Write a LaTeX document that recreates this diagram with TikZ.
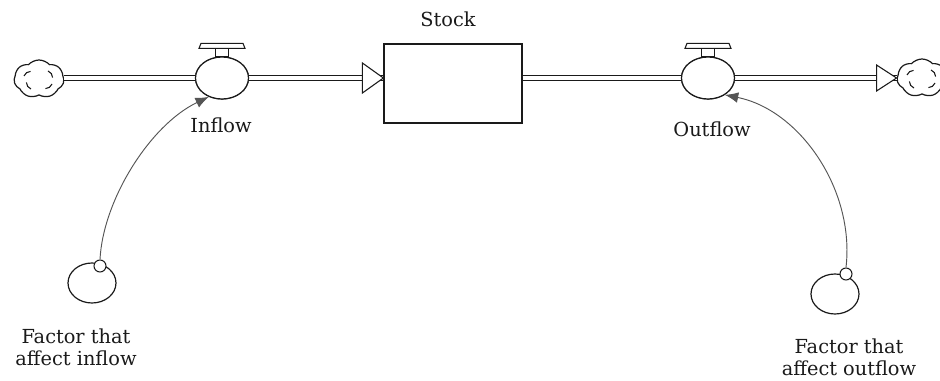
\documentclass[tikz,border=0pt]{standalone}
\usepackage{fontspec}
\setmainfont{DejaVu Serif}
\usetikzlibrary{shapes.geometric,shapes.symbols,arrows.meta}
\definecolor{ink}{HTML}{1A1A1A}
\definecolor{linkgray}{HTML}{555555}
\newdimen\px \px=0.75pt
\tikzset{
  lbl/.style={font=\fontsize{14.5}{16.5}\selectfont, text=ink, inner sep=0pt, align=center},
  valvebody/.style={ellipse, draw=ink, line width=0.9pt, fill=white, minimum width=53\px, minimum height=42\px, inner sep=0pt},
  aux/.style={ellipse, draw=ink, line width=0.9pt, fill=white, minimum width=48\px, minimum height=40\px, inner sep=0pt},
  srcdot/.style={circle, draw=ink, line width=0.8pt, fill=white, minimum size=12\px, inner sep=0pt},
  stockbox/.style={rectangle, draw=ink, line width=0.9pt, fill=white, minimum width=138\px, minimum height=79\px, inner sep=0pt},
  cloudnode/.style={cloud, cloud puffs=7, cloud puff arc=95, aspect=1.35, draw=ink, line width=0.9pt, fill=white, minimum width=50\px, minimum height=38\px, inner sep=0pt},
  pipe/.style={draw=ink, line width=0.7pt, double=white, double distance=3.5\px},
  link/.style={draw=linkgray, line width=0.7pt, -{Latex[length=10pt, width=8pt]}},
  head/.style={draw=ink, line width=0.8pt, fill=white}
}
\begin{document}
\begin{tikzpicture}[x=0.75pt, y=-0.75pt]
  \useasboundingbox (0,0) rectangle (940,381);
  \fill[white] (0,0) rectangle (940,381);

  % stock, flows, clouds
  \node[stockbox] (stock) at (453,83.5) {};
  \node[lbl, anchor=base] (stocklbl) at (448,27) {Stock};
  \node[cloudnode] (lcloud) at (39,79) {};
  \node[cloudnode] (rcloud) at (922,78) {};
  \node[valvebody] (inflow) at (222,78) {};
  \node[valvebody] (outflow) at (708,78) {};
  \coordinate (stockin) at (stock.west |- inflow);
  \coordinate (stockout) at (stock.east |- outflow);
  \coordinate (rcloudin) at (rcloud.west |- outflow);

  % pipes
  \draw[pipe] (lcloud.east |- inflow) -- (inflow.west);
  \draw[pipe] (inflow.east) -- (stockin);
  \draw[pipe] (stockout) -- (outflow.west);
  \draw[pipe] (outflow.east) -- (rcloudin);
  % open flow heads
  \draw[head] (stockin) -- ++(-21,-15) -- ++(0,30) -- cycle;
  \draw[head] (rcloudin) -- ++(-20,-13) -- ++(0,26) -- cycle;

  % redraw valve bodies on top of the pipes
  \node[valvebody] at (inflow) {};
  \node[valvebody] at (outflow) {};

  % valve handles
  \foreach \v in {inflow,outflow}{
    \draw[ink, line width=0.8pt, fill=white] ([shift={(-6.5,0)}]\v.north) rectangle ([shift={(6.5,-8)}]\v.north);
    \draw[ink, line width=0.8pt, fill=white] ([shift={(-23,-8)}]\v.north) -- ([shift={(23,-8)}]\v.north)
      -- ([shift={(21,-13)}]\v.north) -- ([shift={(-21,-13)}]\v.north) -- cycle;
  }

  % swirls inside the clouds
  \foreach \c in {lcloud,rcloud}{
    \draw[ink, line width=0.8pt] ([shift={(-15,-3)}]\c.center) arc[start angle=200, end angle=270, radius=7];
    \draw[ink, line width=0.8pt] ([shift={(9,-8)}]\c.center) arc[start angle=290, end angle=360, radius=7];
    \draw[ink, line width=0.8pt] ([shift={(13,5)}]\c.center) arc[start angle=20, end angle=90, radius=7];
    \draw[ink, line width=0.8pt] ([shift={(-8,10)}]\c.center) arc[start angle=110, end angle=180, radius=7];
  }

  \node[lbl, anchor=base] (inlbl) at (221,133) {Inflow};
  \node[lbl, anchor=base] (outlbl) at (712,137) {Outflow};

  % auxiliary factors
  \node[aux] (fin) at (92,283) {};
  \node[srcdot] (finsrc) at (100,266) {};
  \node[aux] (fout) at (835,294) {};
  \node[srcdot] (foutsrc) at (846,274) {};

  \node[lbl] (finlbl) at (76,347) {Factor that\\affect inflow};
  \node[lbl] (foutlbl) at (849,357) {Factor that\\affect outflow};

  % information links
  \draw[link] (finsrc.north) .. controls (103,200) and (150,125) .. (inflow.235);
  \draw[link] (foutsrc.north) .. controls (855,190) and (800,110) .. (outflow.315);
\end{tikzpicture}
\end{document}
